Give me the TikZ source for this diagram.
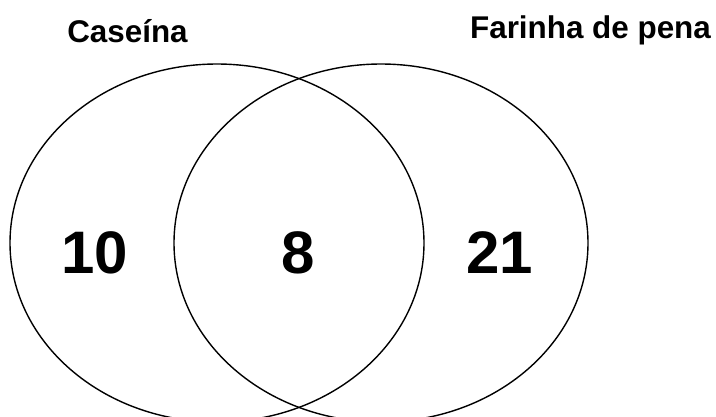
\documentclass[tikz,border=0pt]{standalone}
\usepackage{fontspec}
\setmainfont{Liberation Sans}
\usetikzlibrary{shapes.geometric}
\begin{document}
\begin{tikzpicture}[x=1pt,y=-1pt,
  setshape/.style={ellipse, draw=black, line width=1.4pt, inner sep=0pt, minimum width=414pt, minimum height=358pt},
  title/.style={anchor=base, inner sep=0pt, font=\fontsize{31.4}{33}\selectfont\bfseries},
  count/.style={anchor=base, inner sep=0pt, font=\fontsize{60}{62}\selectfont\bfseries}]
\useasboundingbox (0,0) rectangle (716,416);
\clip (0,0) rectangle (716,416);
\node[setshape] (A) at (217,243) {};
\node[setshape] (B) at (381,243) {};
\node[title] (tA) at (127.5,42) {Caseína};
\node[title] (tB) at (590.5,38) {Farinha de pena};
\node[count] (nA) at (95,273) {10};
\node[count] (nAB) at (298,273) {8};
\node[count] (nB) at (500,273) {21};
\end{tikzpicture}
\end{document}
